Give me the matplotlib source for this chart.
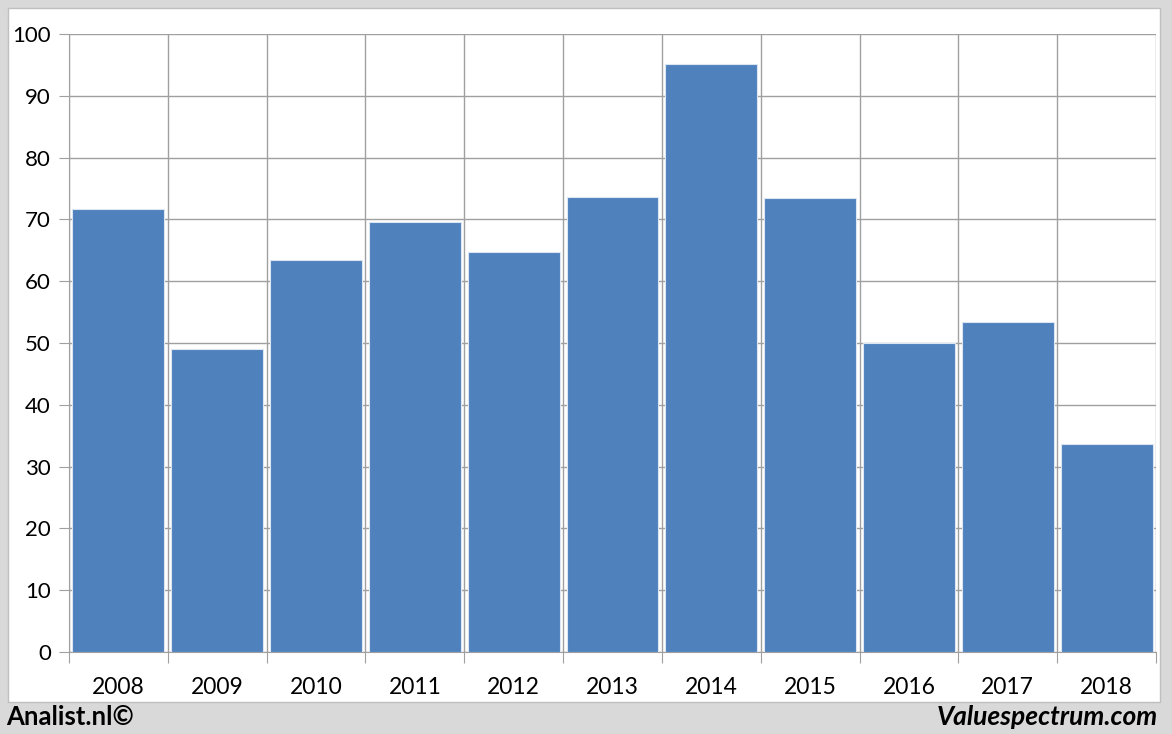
import numpy as np
import matplotlib.pyplot as plt
from matplotlib.patches import Rectangle

years = ["2008", "2009", "2010", "2011", "2012", "2013", "2014", "2015", "2016", "2017", "2018"]
values = [71.7, 49.1, 63.4, 69.6, 64.7, 73.6, 95.2, 73.5, 50.0, 53.4, 33.6]
yticks = [0, 10, 20, 30, 40, 50, 60, 70, 80, 90, 100]

plt.rcParams['font.family'] = ['Lato', 'DejaVu Sans']

fig = plt.figure(figsize=(11.72, 7.34), dpi=100)
fig.patch.set_facecolor("#d9d9d9")
# white panel behind the chart
fig.patches.append(Rectangle((8 / 1172, 1 - 702 / 734), 1152 / 1172, 694 / 734,
                             transform=fig.transFigure, facecolor="white",
                             edgecolor="#bfbfbf", linewidth=1, zorder=-5))

ax = fig.add_axes([69 / 1172, 1 - 652 / 734, 1087 / 1172, 618 / 734])
ax.set_facecolor("white")
x = np.arange(len(years))
ax.bar(x, values, width=0.93, color="#4f81bd", edgecolor="#dce6f2", linewidth=0.8, zorder=3)

ax.set_xlim(-0.5, len(years) - 0.5)
ax.set_ylim(0, 100)
ax.set_yticks(yticks)
ax.set_xticks(np.arange(-0.5, len(years)), minor=False)
ax.set_xticklabels([])
ax.set_xticks(x, minor=True)
ax.set_xticklabels(years, minor=True)

ax.grid(True, which="major", color="#a0a0a0", linewidth=1, zorder=0)
ax.tick_params(axis="x", which="major", length=8, color="#a0a0a0")
ax.tick_params(axis="x", which="minor", length=0, labelsize=16.5, pad=18)
ax.tick_params(axis="y", length=7, color="#a0a0a0", labelsize=16, pad=6)

for s in ["top", "right"]:
    ax.spines[s].set_visible(False)
for s in ["left", "bottom"]:
    ax.spines[s].set_color("#a0a0a0")

fig.text(6 / 1172, 1 - 717 / 734, "Analist.nl©", fontsize=18.5, fontweight="bold", va="center", ha="left")
fig.text(1158 / 1172, 1 - 717 / 734, "Valuespectrum.com", fontsize=19, fontweight="bold",
         style="italic", va="center", ha="right")

fig.savefig("out.png", dpi=100, facecolor=fig.get_facecolor())
